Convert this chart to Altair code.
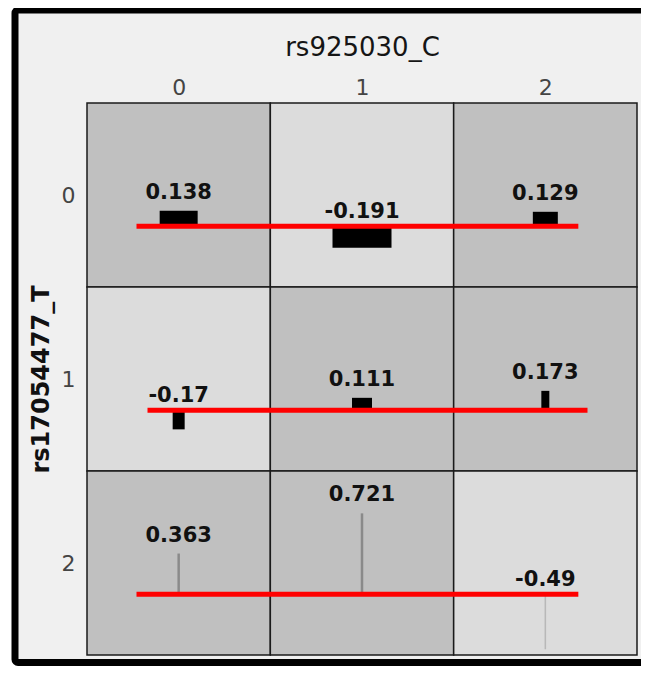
import altair as alt
import pandas as pd

x_title = "rs925030_C"
y_title = "rs17054477_T"
tick_labels = ["0", "1", "2"]

# one entry per cell, row-major (row = rs17054477_T, column = rs925030_C)
rows = [0, 0, 0, 1, 1, 1, 2, 2, 2]
cols = [0, 1, 2, 0, 1, 2, 0, 1, 2]
values = [0.138, -0.191, 0.129, -0.17, 0.111, 0.173, 0.363, 0.721, -0.49]
counts = [38, 59, 25, 12, 20, 8, 2.5, 2.5, 1.5]   # relative group sizes (bar widths)

# red reference line extent for each row (column units)
ref_rows = [0, 1, 2]
ref_start = [0.27, 0.33, 0.27]
ref_end = [2.68, 2.73, 2.68]

W, H = 550, 552
BASE = 0.67          # baseline position inside a row
K = 0.61             # row units per value unit
UNIT = 3 / W         # column units per count unit

cells = pd.DataFrame({"row": rows, "col": cols, "value": values, "n": counts})
cells["c0"] = cells["col"]
cells["c1"] = cells["col"] + 1
cells["r0"] = cells["row"]
cells["r1"] = cells["row"] + 1
cells["sign"] = ["pos" if v >= 0 else "neg" for v in cells["value"]]
cells["xm"] = cells["col"] + 0.5
cells["xa"] = cells["xm"] - cells["n"] * UNIT / 2
cells["xb"] = cells["xm"] + cells["n"] * UNIT / 2
cells["yb"] = cells["row"] + BASE
cells["ye"] = cells["yb"] - cells["value"] * K
cells["ytop"] = cells[["yb", "ye"]].min(axis=1)
cells["label"] = [("%g" % v) for v in cells["value"]]

refs = pd.DataFrame({"row": ref_rows, "s": ref_start, "e": ref_end})
refs["y"] = refs["row"] + BASE

xs = alt.Scale(domain=[0, 3], nice=False, zero=False)
ys = alt.Scale(domain=[0, 3], nice=False, zero=False, reverse=True)

lab_expr = "[" + ",".join("'%s'" % t for t in tick_labels) + "][floor(datum.value)]"
x_axis = alt.Axis(orient="top", values=[0.5, 1.5, 2.5], labelExpr=lab_expr,
                  ticks=False, domain=False, grid=False, zindex=2,
                  labelFontSize=22, labelColor="#444444", labelPadding=4,
                  titleFontSize=26, titleFontWeight=500, titleColor="#151515",
                  titlePadding=16)
y_axis = alt.Axis(orient="left", values=[0.5, 1.5, 2.5], labelExpr=lab_expr,
                  ticks=False, domain=False, grid=False, zindex=2,
                  labelFontSize=22, labelColor="#444444", labelPadding=12,
                  titleFontSize=24, titleFontWeight="bold", titleColor="#111111",
                  titlePadding=8)

frame = alt.Chart(pd.DataFrame({"a": [0]})).mark_rect(
    fill="#f0f0f0", stroke="#000000", strokeWidth=7, cornerRadius=3
).encode(
    x=alt.value(-72), x2=alt.value(575), y=alt.value(-93), y2=alt.value(559.5)
)

bg = alt.Chart(cells).mark_rect(stroke="#1a1a1a", strokeWidth=1.5).encode(
    x=alt.X("c0:Q", scale=xs, title=x_title, axis=x_axis),
    x2="c1:Q",
    y=alt.Y("r0:Q", scale=ys, title=y_title, axis=y_axis),
    y2="r1:Q",
    fill=alt.Fill("sign:N", scale=alt.Scale(domain=["pos", "neg"], range=["#c0c0c0", "#dcdcdc"]), legend=None),
)

bars = alt.Chart(cells).mark_rect().encode(
    x=alt.X("xa:Q", scale=xs, title=x_title, axis=x_axis),
    x2="xb:Q",
    y=alt.Y("yb:Q", scale=ys, title=y_title, axis=y_axis),
    y2="ye:Q",
    color=alt.Color("n:Q", scale=alt.Scale(type="threshold", domain=[2, 5],
                                            range=["#b8b8b8", "#8a8a8a", "#000000"]), legend=None),
)

ref = alt.Chart(refs).mark_rule(color="#ff0000", strokeWidth=5).encode(
    x=alt.X("s:Q", scale=xs, title=x_title, axis=x_axis),
    x2="e:Q",
    y=alt.Y("y:Q", scale=ys, title=y_title, axis=y_axis),
)

txt_pos = alt.Chart(cells).transform_filter("datum.value >= 0").mark_text(
    fontSize=21, fontWeight="bold", color="#111111", baseline="alphabetic", dy=-12
).encode(
    x=alt.X("xm:Q", scale=xs, title=x_title, axis=x_axis),
    y=alt.Y("ytop:Q", scale=ys, title=y_title, axis=y_axis),
    text="label:N",
)
txt_neg = alt.Chart(cells).transform_filter("datum.value < 0").mark_text(
    fontSize=21, fontWeight="bold", color="#111111", baseline="alphabetic", dy=-8
).encode(
    x=alt.X("xm:Q", scale=xs, title=x_title, axis=x_axis),
    y=alt.Y("ytop:Q", scale=ys, title=y_title, axis=y_axis),
    text="label:N",
)

chart = alt.layer(frame, bg, bars, ref, txt_pos, txt_neg).properties(
    width=W, height=H,
    autosize=alt.AutoSizeParams(type="none"),
    padding={"left": 79, "top": 95, "right": 4, "bottom": 11},
    background="#ffffff",
).configure(font="DejaVu Sans").configure_view(stroke=None)

chart.save("out.html", embed_options={"renderer": "svg", "actions": False})
